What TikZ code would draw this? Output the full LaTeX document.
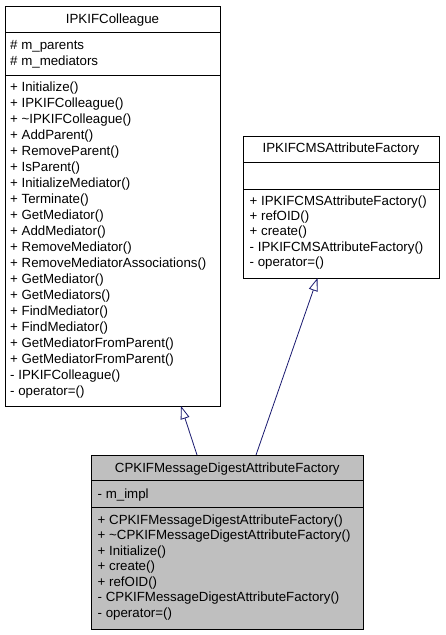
\documentclass[tikz,border=0pt]{standalone}
\usepackage{fontspec}
\setmainfont{Liberation Sans}
\usetikzlibrary{arrows.meta}
\definecolor{edgeblue}{HTML}{191970}
\definecolor{boxgray}{HTML}{BFBFBF}
\begin{document}
\begin{tikzpicture}[x=1pt,y=-1pt,
  umlbox/.style={draw=black, line width=0.8pt, inner sep=0pt, outer sep=0pt, anchor=north west},
  sepline/.style={draw=black, line width=0.8pt},
  txt/.style={anchor=base west, inner sep=0pt, font=\fontsize{13.3}{15}\selectfont},
  ttl/.style={anchor=base, inner sep=0pt, font=\fontsize{13.3}{15}\selectfont},
  inherit/.style={draw=edgeblue, line width=0.8pt, -{Triangle[open, length=13pt, width=9pt]}}]
\useasboundingbox (0,0) rectangle (445,635);
\fill[white] (0,0) rectangle (445,635);
% IPKIFColleague
\node[umlbox, fill=white, minimum width=215pt, minimum height=400pt] (colleague) at (5,6) {};
\draw[sepline] (5,32) -- (220,32);
\draw[sepline] (5,75) -- (220,75);
\node[ttl] (colleague-title) at (112.5,23) {IPKIFColleague};
\node[txt] (colleague-a0) at (10,49.5) {\# m\_parents};
\node[txt] (colleague-a1) at (10,65.5) {\# m\_mediators};
\foreach \t [count=\i from 0] in {+ Initialize(), + IPKIFColleague(), + \textasciitilde IPKIFColleague(), + AddParent(), + RemoveParent(), + IsParent(), + InitializeMediator(), + Terminate(), + GetMediator(), + AddMediator(), + RemoveMediator(), + RemoveMediatorAssociations(), + GetMediator(), + GetMediators(), + FindMediator(), + FindMediator(), + GetMediatorFromParent(), + GetMediatorFromParent(), - IPKIFColleague(), - operator=()}
  \node[txt] (colleague-m\i) at (10,{91+16*\i}) {\t};
% IPKIFCMSAttributeFactory
\node[umlbox, fill=white, minimum width=196pt, minimum height=142pt] (cms) at (243,136) {};
\draw[sepline] (243,162) -- (439,162);
\draw[sepline] (243,189) -- (439,189);
\node[ttl] (cms-title) at (341,152.5) {IPKIFCMSAttributeFactory};
\foreach \t [count=\i from 0] in {+ IPKIFCMSAttributeFactory(), + refOID(), + create(), - IPKIFCMSAttributeFactory(), - operator=()}
  \node[txt] (cms-m\i) at (249.5,{205+15.4*\i}) {\t};
% CPKIFMessageDigestAttributeFactory
\node[umlbox, fill=boxgray, minimum width=271.5pt, minimum height=174.5pt] (cpkif) at (91.5,455) {};
\draw[sepline] (91.5,480.5) -- (363,480.5);
\draw[sepline] (91.5,507) -- (363,507);
\node[ttl] (cpkif-title) at (227.3,472) {CPKIFMessageDigestAttributeFactory};
\node[txt] (cpkif-a0) at (97.5,498.5) {- m\_impl};
\foreach \t [count=\i from 0] in {+ CPKIFMessageDigestAttributeFactory(), + \textasciitilde CPKIFMessageDigestAttributeFactory(), + Initialize(), + create(), + refOID(), - CPKIFMessageDigestAttributeFactory(), - operator=()}
  \node[txt] (cpkif-m\i) at (97.5,{524.3+15.5*\i}) {\t};
% inheritance connectors
\coordinate (e1s) at (197,455);
\coordinate (e1t) at (181,406);
\coordinate (e2s) at (256,455);
\coordinate (e2t) at (317.5,278);
\draw[inherit] (e1s) -- (e1t);
\draw[inherit] (e2s) -- (e2t);
\end{tikzpicture}
\end{document}
